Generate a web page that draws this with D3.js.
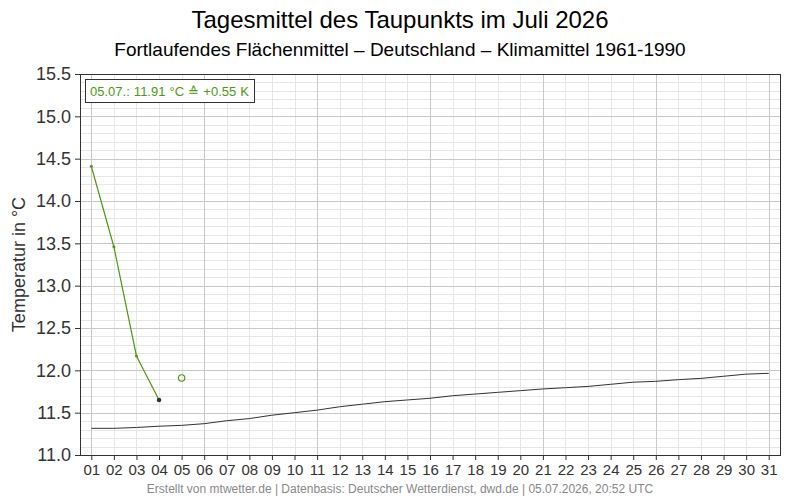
<!DOCTYPE html>
<html>
<head>
<meta charset="utf-8">
<script src="https://cdn.jsdelivr.net/npm/d3@7"></script>
<style>
  body { margin: 0; background: #fff; }
  svg { font-family: "Liberation Sans", Arial, sans-serif; }
</style>
</head>
<body>
<div id="chart"></div>
<script>
// data
const days = d3.range(1, 32)
const dayLabels = days.map(d => String(d).padStart(2, "0"))
const observed = [14.41, 13.46, 12.17, 11.65]
const current = { day: 5, value: 11.91 }
const climate = [11.315, 11.315, 11.325, 11.34, 11.35, 11.37, 11.405, 11.43, 11.47, 11.50,
	11.53, 11.57, 11.60, 11.63, 11.65, 11.67, 11.70, 11.72, 11.74, 11.76,
	11.78, 11.795, 11.81, 11.835, 11.86, 11.87, 11.89, 11.905, 11.93, 11.955, 11.965]
const yTicks = [11.0, 11.5, 12.0, 12.5, 13.0, 13.5, 14.0, 14.5, 15.0, 15.5]
const infoText = "05.07.: 11.91 °C ≙ +0.55 K"

const width = 800
const height = 500
const margin = { top: 74, right: 20, bottom: 45, left: 80 }
const green = "#4b9a12"

const svg = d3.select("#chart")
	.append("svg")
	.attr("width", width)
	.attr("height", height)

const x = d3.scaleLinear()
	.domain([0.5, 31.5])
	.range([margin.left, width - margin.right])

const y = d3.scaleLinear()
	.domain([11, 15.5])
	.range([height - margin.bottom, margin.top])

// grid - minor horizontal (0.1)
const minorY = d3.range(110, 156).map(v => v / 10)
svg.append("g")
	.selectAll("line")
	.data(minorY)
	.enter()
	.append("line")
	.attr("x1", margin.left)
	.attr("x2", width - margin.right)
	.attr("y1", d => Math.round(y(d)) + 0.5)
	.attr("y2", d => Math.round(y(d)) + 0.5)
	.attr("stroke", "#e6e6e6")

// vertical grid per day, stronger every 5 days
svg.append("g")
	.selectAll("line")
	.data(days)
	.enter()
	.append("line")
	.attr("x1", d => Math.round(x(d)) + 0.5)
	.attr("x2", d => Math.round(x(d)) + 0.5)
	.attr("y1", margin.top)
	.attr("y2", height - margin.bottom)
	.attr("stroke", d => (d - 1) % 5 === 0 ? "#c8c8c8" : "#e6e6e6")

// major horizontal
svg.append("g")
	.selectAll("line")
	.data(yTicks)
	.enter()
	.append("line")
	.attr("x1", margin.left)
	.attr("x2", width - margin.right)
	.attr("y1", d => Math.round(y(d)) + 0.5)
	.attr("y2", d => Math.round(y(d)) + 0.5)
	.attr("stroke", "#c8c8c8")

// plot frame
svg.append("rect")
	.attr("x", margin.left + 0.5)
	.attr("y", margin.top + 0.5)
	.attr("width", width - margin.left - margin.right)
	.attr("height", height - margin.top - margin.bottom)
	.attr("fill", "none")
	.attr("stroke", "#333")

// axes
const yAxis = svg.append("g")
	.attr("transform", `translate(${margin.left},0)`)
	.call(d3.axisLeft(y).tickValues(yTicks).tickFormat(d3.format(".1f")).tickSize(5).tickPadding(4))
yAxis.select(".domain").remove()
yAxis.selectAll("line").attr("stroke", "#333")
yAxis.selectAll("text")
	.style("font-size", "18px")
	.attr("fill", "#333")

const xAxis = svg.append("g")
	.attr("transform", `translate(0,${height - margin.bottom})`)
	.call(d3.axisBottom(x).tickValues(days).tickFormat((d, i) => dayLabels[i]).tickSize(5).tickPadding(4))
xAxis.select(".domain").remove()
xAxis.selectAll("line").attr("stroke", "#333")
xAxis.selectAll("text")
	.style("font-size", "15px")
	.attr("fill", "#333")

// climate mean line
const line = d3.line()
	.x((d, i) => x(days[i]))
	.y(d => y(d))

svg.append("path")
	.datum(climate)
	.attr("d", line)
	.attr("fill", "none")
	.attr("stroke", "#333")
	.attr("stroke-width", 1)

// observed
svg.append("path")
	.datum(observed)
	.attr("d", line)
	.attr("fill", "none")
	.attr("stroke", green)
	.attr("stroke-width", 1.2)

svg.append("g")
	.selectAll("circle")
	.data(observed)
	.enter()
	.append("circle")
	.attr("cx", (d, i) => x(days[i]))
	.attr("cy", d => y(d))
	.attr("r", (d, i) => i === observed.length - 1 ? 2.3 : 1.5)
	.attr("fill", (d, i) => i === observed.length - 1 ? "#333" : green)

svg.append("circle")
	.attr("cx", x(current.day))
	.attr("cy", y(current.value))
	.attr("r", 3.2)
	.attr("fill", "none")
	.attr("stroke", green)
	.attr("stroke-width", 1.2)

// info box
svg.append("rect")
	.attr("x", 85.5)
	.attr("y", 79.5)
	.attr("width", 169)
	.attr("height", 23)
	.attr("fill", "#fff")
	.attr("stroke", "#333")

svg.append("text")
	.attr("x", 90)
	.attr("y", 96)
	.text(infoText)
	.style("font-size", "13px")
	.style("word-spacing", "0.5px")
	.attr("fill", green)

// titles
svg.append("text")
	.attr("x", width / 2)
	.attr("y", 28)
	.attr("text-anchor", "middle")
	.text("Tagesmittel des Taupunkts im Juli 2026")
	.style("font-size", "24px")
	.attr("fill", "#000")

svg.append("text")
	.attr("x", width / 2)
	.attr("y", 56)
	.attr("text-anchor", "middle")
	.text("Fortlaufendes Flächenmittel – Deutschland – Klimamittel 1961-1990")
	.style("font-size", "19px")
	.attr("fill", "#000")

svg.append("text")
	.attr("transform", `translate(25,${(margin.top + height - margin.bottom) / 2}) rotate(-90)`)
	.attr("text-anchor", "middle")
	.text("Temperatur in °C")
	.style("font-size", "18px")
	.attr("fill", "#333")

svg.append("text")
	.attr("x", width / 2)
	.attr("y", 493)
	.attr("text-anchor", "middle")
	.text("Erstellt von mtwetter.de | Datenbasis: Deutscher Wetterdienst, dwd.de | 05.07.2026, 20:52 UTC")
	.style("font-size", "12px")
	.attr("fill", "#888")
</script>
</body>
</html>
